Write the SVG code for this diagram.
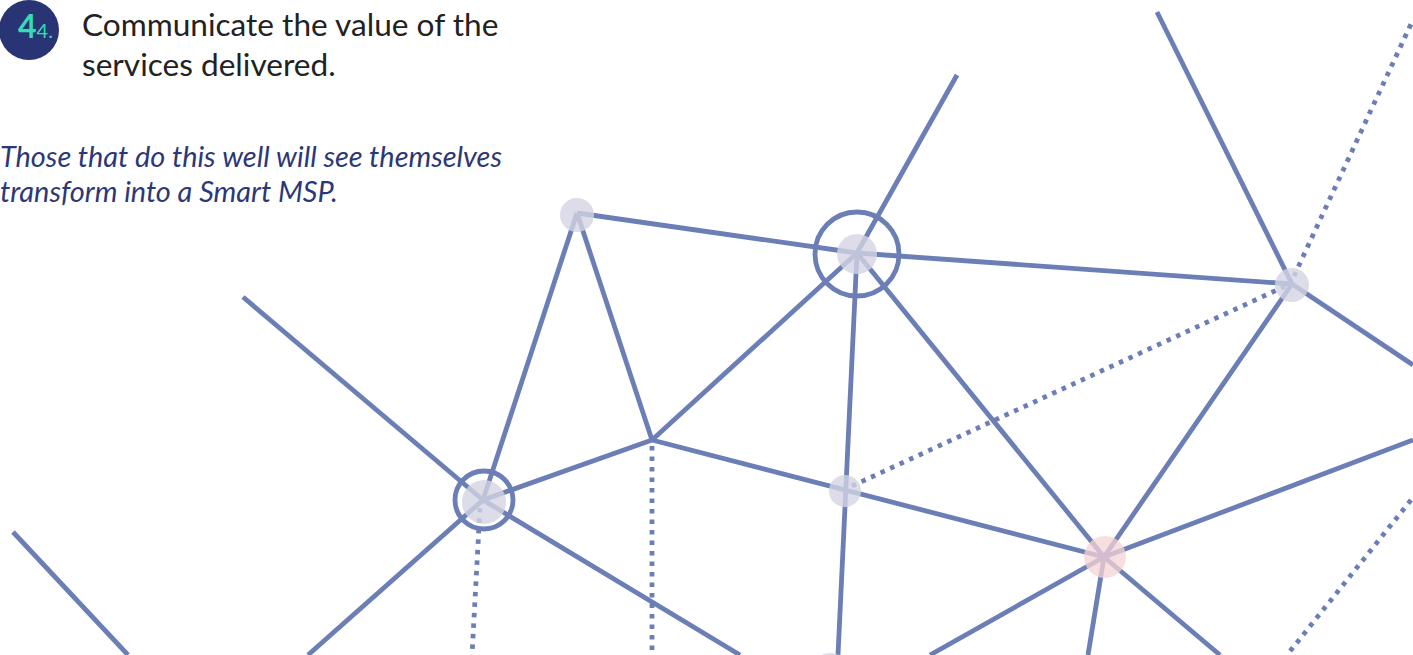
<svg xmlns="http://www.w3.org/2000/svg" width="1413" height="655" viewBox="0 0 1413 655">
<style>
.ln{stroke:#6b7fb6;stroke-width:4.8;fill:none}
.dt{stroke:#6b7fb6;stroke-width:4.8;fill:none;stroke-dasharray:4.5 6}
.gray{fill:#d5d5e4;opacity:0.8}
.pink{fill:#f7d3d6;opacity:0.75}
.ring{fill:none;stroke:#6b7fb6;stroke-width:4.8}
.h1{font-family:Lato,"Open Sans",sans-serif;font-size:31.6px;fill:#222}
.it{font-family:Lato,"Open Sans",sans-serif;font-size:28.9px;font-style:italic;fill:#2b3878}
</style>
<g id="connectors">
<line class="ln" x1="577" y1="213" x2="857" y2="253"/>
<line class="ln" x1="857" y1="253" x2="1292" y2="284"/>
<line class="ln" x1="857" y1="253" x2="957" y2="75"/>
<line class="ln" x1="577" y1="213" x2="652" y2="440"/>
<line class="ln" x1="577" y1="213" x2="483" y2="500"/>
<line class="ln" x1="652" y1="440" x2="857" y2="253"/>
<line class="ln" x1="652" y1="440" x2="483" y2="500"/>
<line class="ln" x1="652" y1="440" x2="1104" y2="557"/>
<line class="ln" x1="857" y1="253" x2="838" y2="655"/>
<line class="ln" x1="857" y1="253" x2="1104" y2="557"/>
<line class="ln" x1="1292" y1="284" x2="1104" y2="557"/>
<line class="ln" x1="1157" y1="12" x2="1292" y2="284"/>
<line class="ln" x1="1292" y1="284" x2="1413" y2="365"/>
<line class="ln" x1="1104" y1="557" x2="1413" y2="440"/>
<line class="ln" x1="1104" y1="557" x2="930" y2="655"/>
<line class="ln" x1="1104" y1="557" x2="1088" y2="655"/>
<line class="ln" x1="1104" y1="557" x2="1220" y2="655"/>
<line class="ln" x1="243" y1="297" x2="483" y2="500"/>
<line class="ln" x1="483" y1="500" x2="308" y2="655"/>
<line class="ln" x1="483" y1="500" x2="740" y2="655"/>
<line class="ln" x1="13" y1="532" x2="128" y2="655"/>
<line class="dt" x1="852" y1="486" x2="1290" y2="284"/>
<line class="dt" x1="1294" y1="276" x2="1411" y2="24"/>
<line class="dt" x1="652" y1="446" x2="652" y2="655"/>
<line class="dt" x1="480" y1="508" x2="472" y2="655"/>
<line class="dt" x1="1411" y1="500" x2="1287" y2="655"/>
</g>
<g id="node-a"><circle class="gray" cx="577" cy="215" r="17"/></g>
<g id="node-b"><circle class="gray" cx="857" cy="254" r="20"/><circle class="ring" cx="857" cy="254" r="42"/></g>
<g id="node-c"><circle class="gray" cx="1292" cy="285" r="17"/></g>
<g id="node-e"><circle class="gray" cx="484" cy="502" r="22"/><circle class="ring" cx="484" cy="500" r="29"/></g>
<g id="node-f"><circle class="gray" cx="845" cy="491" r="16"/></g>
<g id="node-g"><circle class="pink" cx="1105" cy="557" r="21"/></g>
<g id="node-h"><circle class="gray" cx="830" cy="675" r="22" opacity="0.5"/></g>
<g id="header">
<circle cx="29" cy="30" r="30" fill="#283474"/>
<text x="18" y="38" font-family="Lato,'Open Sans',sans-serif" font-size="32" font-weight="bold" fill="#34dcb4">4<tspan font-size="20" font-weight="normal">4.</tspan></text>
<text class="h1" x="82" y="36">Communicate the value of the</text>
<text class="h1" x="82" y="76">services delivered.</text>
<text class="it" x="0" y="167">Those that do this well will see themselves</text>
<text class="it" x="0" y="202">transform into a Smart MSP.</text>
</g>
</svg>
